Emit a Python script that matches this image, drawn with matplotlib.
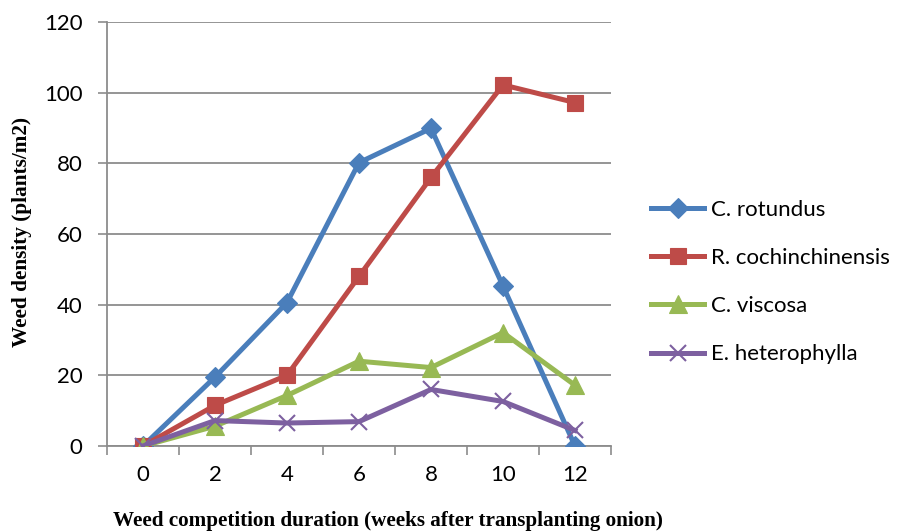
import matplotlib
matplotlib.use("Agg")
import matplotlib.pyplot as plt
import numpy as np

weeks = ["0", "2", "4", "6", "8", "10", "12"]
c_rotundus = [0, 19.5, 40.6, 80.2, 89.9, 45.3, 0]
r_cochinchinensis = [0, 11.5, 20.0, 48.0, 76.0, 102.2, 97.2]
c_viscosa = [0, 5.6, 14.3, 24.0, 22.2, 32.1, 17.2]
e_heterophylla = [0, 7.2, 6.5, 6.9, 16.0, 12.6, 4.4]

series = [
    ("C. rotundus", c_rotundus, "#4A7EBB", "D", 10),
    ("R. cochinchinensis", r_cochinchinensis, "#BE4B48", "s", 12),
    ("C. viscosa", c_viscosa, "#98B954", "^", 13),
    ("E. heterophylla", e_heterophylla, "#7D60A0", "x", 12),
]

fig = plt.figure(figsize=(9.07, 5.32), dpi=100)
ax = fig.add_axes([107/907, 1-446/532, (611-107)/907, (446-22)/532])

x = np.arange(len(weeks))
for name, vals, col, mk, ms in series:
    kw = dict(markeredgewidth=1.5) if mk == "x" else dict(markeredgecolor=col, markeredgewidth=0.8)
    ax.plot(x, vals, color=col, lw=3.6, marker=mk, markersize=ms,
            markerfacecolor=col, label=name, zorder=3, **kw)

ax.set_xlim(-0.5, len(weeks) - 0.5)
ax.set_ylim(0, 120)
ax.set_yticks(np.arange(0, 121, 20))
ax.yaxis.grid(True, color="#8C8C8C", lw=1.3)
ax.set_axisbelow(True)

ax.set_xticks(x)
ax.set_xticklabels(weeks)
ax.set_xticks(np.arange(-0.5, len(weeks), 1), minor=True)
ax.tick_params(axis="x", which="major", length=0, pad=14)
ax.tick_params(axis="x", which="minor", length=6.5, width=1.2, color="#8C8C8C", direction="out")
ax.tick_params(axis="y", length=6.5, width=1.2, color="#8C8C8C", direction="out", pad=11)

for lab in ax.get_xticklabels() + ax.get_yticklabels():
    lab.set_fontfamily("Lato")
    lab.set_fontsize(16)

for s in ["top", "right"]:
    ax.spines[s].set_visible(False)
for s in ["left", "bottom"]:
    ax.spines[s].set_color("#8C8C8C")
    ax.spines[s].set_linewidth(1.3)

fig.text(22/907, 1-232/532, "Weed density (plants/m2)", rotation=90, ha="center", va="center",
         fontfamily="Liberation Serif", fontweight="bold", fontsize=15.3)
fig.text(388/907, 1-521/532, "Weed competition duration (weeks after transplanting onion)",
         ha="center", va="center", fontfamily="Liberation Serif", fontweight="bold", fontsize=15.2)

leg = ax.legend(loc="center left", bbox_to_anchor=(642/907, 1-282/532), bbox_transform=fig.transFigure,
                frameon=False, prop={"family": "Lato", "size": 16}, handlelength=2.4,
                handletextpad=0.3, labelspacing=1.27, borderaxespad=0)

fig.savefig("out.png", dpi=100)
